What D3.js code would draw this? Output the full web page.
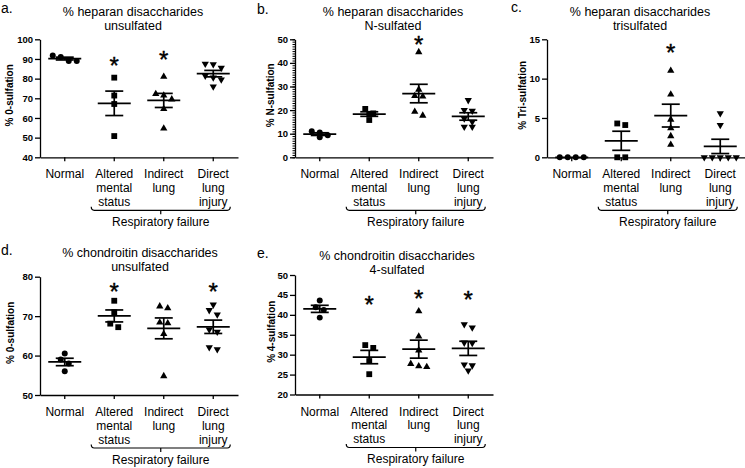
<!DOCTYPE html>
<html><head><meta charset="utf-8">
<script src="https://cdn.jsdelivr.net/npm/d3@7"></script>
<style>
html,body{margin:0;padding:0;background:#fff;}
svg{display:block;font-family:"Liberation Sans",Arial,Helvetica,sans-serif;}
</style></head><body>
<svg id="chart" width="745" height="468"></svg>
<script>
// ---------- DATA ----------
const categories = ["Normal", "Altered mental status", "Indirect lung", "Direct lung injury"];
const categoryLines = [["Normal"], ["Altered", "mental", "status"], ["Indirect", "lung"], ["Direct", "lung", "injury"]];
const groupLabel = "Respiratory failure";

const heparanUnsulfated = [[91.8, 91, 89, 89], [80.5, 71.4, 67.1, 50.8], [81, 72.2, 71.5, 69.5, 64.6, 54.7], [87.5, 87.3, 85.5, 81.5, 80.5, 79.5, 76]];
const heparanUnsulfatedStars = [null, 89.2, 92.5, null];
const heparanUnsulfatedTicks = [40, 50, 60, 70, 80, 90, 100];

const heparanNSulfated = [[11, 10.5, 9.3, 8.5], [20.5, 18.6, 18.4, 15.8], [44.6, 28.7, 26, 25.8, 19.3, 17.7], [24.2, 20, 19.7, 16.4, 15, 12.9, 12.9]];
const heparanNSulfatedStars = [null, null, 50, null];
const heparanNSulfatedTicks = [0, 10, 20, 30, 40, 50];

const heparanTrisulfated = [[0, 0, 0, 0], [4.3, 4.1, 0, 0], [11, 8, 4.8, 3.7, 2.7, 1.6], [5.6, 4.1, 0, 0, 0, 0, 0]];
const heparanTrisulfatedStars = [null, null, 13.9, null];
const heparanTrisulfatedTicks = [0, 5, 10, 15];

const chondroitinUnsulfated = [[60.5, 59, 58, 56], [73.9, 71, 68.1, 67.2], [72.5, 72, 68.4, 68.2, 65.5, 54.8], [72.9, 71.5, 70.4, 66.6, 66, 62.1, 61.6]];
const chondroitinUnsulfatedStars = [null, 77.5, null, 77.5];
const chondroitinUnsulfatedTicks = [50, 60, 70, 80];

const chondroitin4Sulfated = [[43.6, 41.9, 41.2, 39.3], [32.4, 31.7, 28.4, 25.1], [40.9, 34.6, 31.1, 27.7, 27.1, 26.9], [37.6, 36.8, 33, 32.9, 27.5, 27.3, 26]];
const chondroitin4SulfatedStars = [null, 43.9, 45.4, 45.2];
const chondroitin4SulfatedTicks = [20, 25, 30, 35, 40, 45, 50];

// ---------- LAYOUT ----------
const panels = [
  {letter: "a.", title: ["% heparan disaccharides", "unsulfated"], yLabel: "% 0-sulfation",
   data: heparanUnsulfated, stars: heparanUnsulfatedStars, ticks: heparanUnsulfatedTicks, minor: null,
   x0: 40, top: 39.3, bottom: 157.3, titleX: 133, titleY: 16, letterX: 1, letterY: 13, yLabelX: 13, rowGap: 6},
  {letter: "b.", title: ["% heparan disaccharides", "N-sulfated"], yLabel: "% N-sulfation",
   data: heparanNSulfated, stars: heparanNSulfatedStars, ticks: heparanNSulfatedTicks, minor: 1,
   x0: 295, top: 39.3, bottom: 157.3, titleX: 393, titleY: 16, letterX: 257, letterY: 14, yLabelX: 273.5, rowGap: 4.5},
  {letter: "c.", title: ["% heparan disaccharides", "trisulfated"], yLabel: "% Tri-sulfation",
   data: heparanTrisulfated, stars: heparanTrisulfatedStars, ticks: heparanTrisulfatedTicks, minor: null,
   x0: 547, top: 39.3, bottom: 157.3, titleX: 640, titleY: 16, letterX: 511, letterY: 12, yLabelX: 526, rowGap: 5},
  {letter: "d.", title: ["% chondroitin disaccharides", "unsulfated"], yLabel: "% 0-sulfation",
   data: chondroitinUnsulfated, stars: chondroitinUnsulfatedStars, ticks: chondroitinUnsulfatedTicks, minor: null,
   x0: 40, top: 276.7, bottom: 395, titleX: 140, titleY: 257, letterX: 1, letterY: 255, yLabelX: 14, rowGap: 5},
  {letter: "e.", title: ["% chondroitin disaccharides", "4-sulfated"], yLabel: "% 4-sulfation",
   data: chondroitin4Sulfated, stars: chondroitin4SulfatedStars, ticks: chondroitin4SulfatedTicks, minor: null,
   x0: 295, top: 275, bottom: 394.5, titleX: 397, titleY: 260, letterX: 257, letterY: 258, yLabelX: 275, rowGap: 5}
];

const svg = d3.select("#chart");
const plotW = 198;
const symbols = [
  {type: d3.symbolCircle, size: 28, rot: 0},
  {type: d3.symbolSquare, size: 34, rot: 0},
  {type: d3.symbolTriangle, size: 23, rot: 0},
  {type: d3.symbolTriangle, size: 23, rot: 180}
];

function layoutGroup(vals, y, gap, spacing) {
  const pts = vals.map(v => ({v, py: y(v)})).sort((a, b) => a.py - b.py);
  const rows = [];
  let cur = null;
  for (const pt of pts) {
    if (!cur || pt.py - cur[0].py > gap) { cur = [pt]; rows.push(cur); }
    else cur.push(pt);
  }
  rows.forEach(r => r.forEach((pt, j) => pt.dx = (j - (r.length - 1) / 2) * spacing));
  return pts;
}

function drawPanel(p) {
  const g = svg.append("g");
  const x = d3.scaleBand().domain(categories).range([p.x0, p.x0 + plotW]);
  const cx = c => x(c) + x.bandwidth() / 2;
  const y = d3.scaleLinear().domain(d3.extent(p.ticks)).range([p.bottom, p.top]);

  if (p.minor) {
    const ext = d3.extent(p.ticks);
    const mv = d3.range(ext[0], ext[1] + 1e-9, p.minor);
    g.append("g").attr("transform", `translate(${p.x0},0)`)
      .call(d3.axisLeft(y).tickValues(mv).tickSize(2.5).tickFormat(""))
      .call(s => s.select(".domain").remove())
      .call(s => s.selectAll("line").attr("stroke-width", 1));
  }

  const ya = g.append("g").attr("transform", `translate(${p.x0},0)`)
    .call(d3.axisLeft(y).tickValues(p.ticks).tickSize(5).tickSizeOuter(0).tickPadding(2));
  ya.selectAll("path,line").attr("stroke", "#000").attr("stroke-width", 1.3);
  ya.selectAll("text").attr("font-size", 9.5).attr("font-weight", "bold")
    .attr("font-family", "'Liberation Sans', Arial, sans-serif").attr("fill", "#000");

  const xa = g.append("g").attr("transform", `translate(0,${p.bottom})`)
    .call(d3.axisBottom(x).tickSize(4).tickSizeOuter(0).tickFormat(""));
  xa.selectAll("path,line").attr("stroke", "#000").attr("stroke-width", 1.3);

  // category labels
  categories.forEach((c, i) => {
    const t = g.append("text").attr("text-anchor", "middle").attr("font-size", 12).attr("fill", "#000");
    categoryLines[i].forEach((ln, k) => {
      t.append("tspan").attr("x", cx(c)).attr("y", p.bottom + 21 + k * 13.8).text(ln);
    });
  });

  // bracket
  const bl = cx(categories[1]) - 23, br = cx(categories[3]) + 17, by = p.bottom + 53;
  const mid = (bl + br) / 2;
  g.append("path")
    .attr("d", `M${bl},${by - 3.5} Q${bl},${by} ${bl + 3},${by} L${br - 3},${by} Q${br},${by} ${br},${by - 3.5} M${mid},${by} L${mid},${by + 4}`)
    .attr("fill", "none").attr("stroke", "#000").attr("stroke-width", 1.2);
  g.append("text").attr("x", mid).attr("y", p.bottom + 68.5).attr("text-anchor", "middle")
    .attr("font-size", 12).attr("fill", "#000").text(groupLabel);

  // points, means, SEM
  categories.forEach((c, i) => {
    const vals = p.data[i];
    const pts = layoutGroup(vals, y, p.rowGap, 8);
    const sym = symbols[i];
    g.append("g").selectAll("path").data(pts).join("path")
      .attr("d", d3.symbol().type(sym.type).size(sym.size))
      .attr("transform", d => `translate(${cx(c) + d.dx},${d.py}) rotate(${sym.rot})`)
      .attr("fill", "#000");
    const m = d3.mean(vals);
    const sd = d3.deviation(vals) || 0;
    const sem = sd / Math.sqrt(vals.length);
    const xc = cx(c);
    const lg = g.append("g").attr("stroke", "#000").attr("stroke-width", 1.7).attr("fill", "none");
    lg.append("line").attr("x1", xc - 16.5).attr("x2", xc + 16.5).attr("y1", y(m)).attr("y2", y(m));
    if (sem > 0) {
      lg.append("line").attr("x1", xc).attr("x2", xc).attr("y1", y(m + sem)).attr("y2", y(m - sem));
      lg.append("line").attr("x1", xc - 9).attr("x2", xc + 9).attr("y1", y(m + sem)).attr("y2", y(m + sem));
      lg.append("line").attr("x1", xc - 9).attr("x2", xc + 9).attr("y1", y(m - sem)).attr("y2", y(m - sem));
    }
    if (p.stars[i] != null) {
      g.append("text").attr("x", xc).attr("y", y(p.stars[i]) + 13.5).attr("text-anchor", "middle")
        .attr("font-size", 24).attr("fill", "#000").attr("stroke", "#000").attr("stroke-width", 0.4).text("*");
    }
  });

  // title
  p.title.forEach((ln, k) => {
    g.append("text").attr("x", p.titleX).attr("y", p.titleY + k * 14).attr("text-anchor", "middle")
      .attr("font-size", 12.5).attr("fill", "#000").text(ln);
  });
  g.append("text").attr("x", p.letterX).attr("y", p.letterY).attr("font-size", 14).attr("fill", "#000").text(p.letter);
  const yc = (p.top + p.bottom) / 2 - 3;
  g.append("text").attr("transform", `translate(${p.yLabelX},${yc}) rotate(-90)`).attr("text-anchor", "middle")
    .attr("font-size", 10).attr("font-weight", "bold").attr("fill", "#000").text(p.yLabel);
}

panels.forEach(drawPanel);
</script>
</body></html>
